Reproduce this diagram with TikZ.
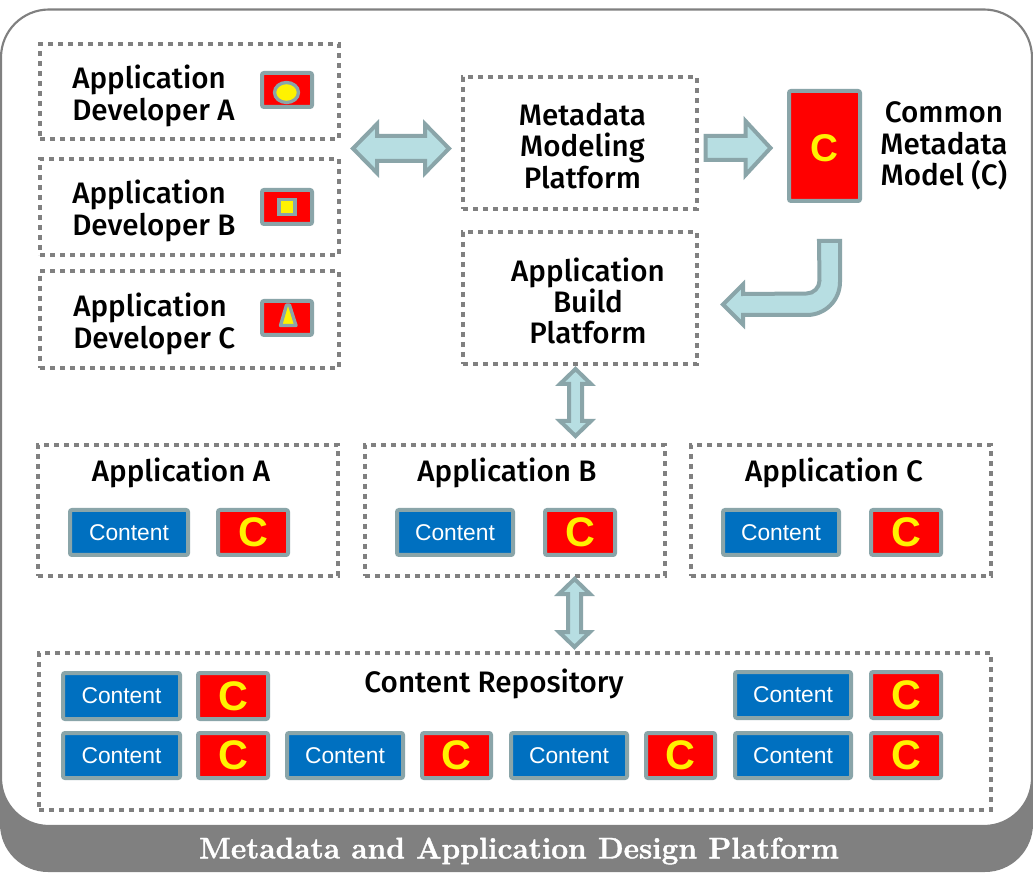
\documentclass[tikz,border=0pt]{standalone}
\usepackage{fontspec}
\setmainfont{Latin Modern Roman}
\newfontfamily\lab{Fira Sans Medium}
\newfontfamily\arial{Liberation Sans}
\newfontfamily\titlefont[BoldFeatures={FakeBold=1.3}]{Latin Modern Roman}
\usetikzlibrary{calc}
\definecolor{edgegray}{HTML}{8AA5A9}
\definecolor{dotgray}{HTML}{808080}
\definecolor{paleblue}{HTML}{B7DEE2}
\definecolor{contentblue}{HTML}{0070C0}
\tikzset{
  dotbox/.style={draw=dotgray,line width=3.5pt,dash pattern=on 3.6pt off 3.9pt,rectangle,inner sep=0pt},
  chip/.style={draw=edgegray,line width=3pt,rounded corners=1.5pt,rectangle,inner sep=0pt},
  contentbox/.style={chip,fill=contentblue,text=white,font=\arial\fontsize{17.1}{20}\selectfont},
  cbox/.style={chip,fill=red,text=yellow,font=\arial\bfseries\fontsize{31}{34}\selectfont},
  iconbox/.style={chip,fill=red},
  label/.style={font=\lab\fontsize{22.2}{23.4}\selectfont,text=black,inner sep=0pt},
  blockarrow/.style={draw=edgegray,fill=paleblue,line width=3pt,miter limit=10,line join=miter},
}
\newcommand\bx[7][]{\node[#2,#1,minimum width={(#5-#3)*0.75pt},minimum height={(#6-#4)*0.75pt}] (#7) at ({(#3+#5)/2},{(#4+#6)/2})}
\newcommand\dblh[5]{\draw[blockarrow] (#1) -- ($(#1)+(#3,-#4)$) -- ($(#1)+(#3,-#5)$) -- ($(#2)+(-#3,-#5)$) -- ($(#2)+(-#3,-#4)$) -- (#2) -- ($(#2)+(-#3,#4)$) -- ($(#2)+(-#3,#5)$) -- ($(#1)+(#3,#5)$) -- ($(#1)+(#3,#4)$) -- cycle;}
\newcommand\dblv[5]{\draw[blockarrow] (#1) -- ($(#1)+(-#4,#3)$) -- ($(#1)+(-#5,#3)$) -- ($(#2)+(-#5,-#3)$) -- ($(#2)+(-#4,-#3)$) -- (#2) -- ($(#2)+(#4,-#3)$) -- ($(#2)+(#5,-#3)$) -- ($(#1)+(#5,#3)$) -- ($(#1)+(#4,#3)$) -- cycle;}
\begin{document}
\begin{tikzpicture}[x=0.75pt,y=-0.75pt]
\useasboundingbox (0,0) rectangle (1033,884);
\fill[white] (0,0) rectangle (1033,884);
% frame
\fill[dotgray,rounded corners=36pt] (0,300) rectangle (1033,872);
\filldraw[fill=white,draw=dotgray,line width=1.6pt,rounded corners=36pt] (1,9.5) rectangle (1032,826);
\node[font=\titlefont\bfseries\fontsize{22.4}{24}\selectfont,text=white,inner sep=0pt] (title) at (519,851) {Metadata and Application Design Platform};
% developers
\bx{dotbox}{40}{44}{339}{139}{devA} {};
\bx{dotbox}{40}{159}{339}{255}{devB} {};
\bx{dotbox}{40}{271}{339}{368}{devC} {};
\node[label,anchor=west,align=left] (devAt) at (72,96) {Application\\Developer A};
\node[label,anchor=west,align=left] (devBt) at (72,211) {Application\\Developer B};
\node[label,anchor=west,align=left] (devCt) at (73,324) {Application\\Developer C};
\bx{iconbox}{262}{73}{312}{107}{iconA} {};
\bx{iconbox}{262}{190}{312}{224}{iconB} {};
\bx{iconbox}{262}{301}{312}{335}{iconC} {};
\draw[fill=yellow,draw=edgegray,line width=2.5pt] (286.5,92.5) ellipse [x radius=12,y radius=10];
\draw[fill=yellow,draw=edgegray,line width=2.5pt] (279,199.5) rectangle (295,214.5);
\draw[fill=yellow,draw=edgegray,line width=2.5pt,line join=round] (286.5,305) -- (289.5,305) -- (296,325.5) -- (280.5,325.5) -- cycle;
% platforms
\bx{dotbox}{463}{77}{697}{209}{modeling} {};
\bx{dotbox}{463}{232}{697}{364}{build} {};
\node[label,align=center] (modelingt) at (582.5,146) {Metadata\\Modeling\\Platform};
\node[label,align=center] (buildt) at (588,301) {Application\\Build\\Platform};
\bx{chip,fill=red}{789}{91}{860}{201}{cmm} {};
\node[text=yellow,font=\arial\bfseries\fontsize{29}{32}\selectfont,inner sep=0pt] (cmmc) at (824,148.5) {C};
\node[label,align=center] (cmmt) at (944,146) {Common\\Metadata\\Model (C)};
% applications
\bx{dotbox}{38}{445}{338}{576}{appA} {};
\bx{dotbox}{365}{445}{665}{576}{appB} {};
\bx{dotbox}{691}{445}{991}{576}{appC} {};
\node[label] (appAt) at (181,473) {Application A};
\node[label] (appBt) at (507,473) {Application B};
\node[label] (appCt) at (834,473) {Application C};
\bx{contentbox}{70}{510}{188}{555}{ca} {Content};
\bx{cbox}{218}{510}{288}{555}{xa} {C};
\bx{contentbox}{397}{510}{513}{555}{cb} {Content};
\bx{cbox}{545}{510}{615}{555}{xb} {C};
\bx{contentbox}{723}{510}{839}{555}{cc} {Content};
\bx{cbox}{871}{510}{941}{555}{xc} {C};
% repository
\bx{dotbox}{39}{653}{991}{810}{repo} {};
\node[label] (repot) at (494,684) {Content Repository};
\bx{contentbox}{63}{673}{180}{719}{r1} {Content};
\bx{cbox}{198}{673}{268}{719}{s1} {C};
\bx{contentbox}{735}{672}{851}{718}{r2} {Content};
\bx{cbox}{871}{672}{941}{718}{s2} {C};
\bx{contentbox}{63}{733}{180}{778}{r3} {Content};
\bx{cbox}{198}{733}{268}{778}{s3} {C};
\bx{contentbox}{287}{733}{403}{778}{r4} {Content};
\bx{cbox}{422}{733}{491}{778}{s4} {C};
\bx{contentbox}{511}{733}{627}{778}{r5} {Content};
\bx{cbox}{646}{733}{715}{778}{s5} {C};
\bx{contentbox}{735}{733}{851}{778}{r6} {Content};
\bx{cbox}{871}{733}{941}{778}{s6} {C};
% connectors
\coordinate (a1) at (353,148.5);
\coordinate (a2) at (449,148.5);
\dblh{a1}{a2}{24}{24.5}{12.5}
\coordinate (b1) at (705.5,148);
\coordinate (b2) at (770.5,148);
\draw[blockarrow] ($(b1)+(0,-12)$) -- ($(b1)+(40,-12)$) -- ($(b1)+(40,-27)$) -- (b2) -- ($(b1)+(40,27)$) -- ($(b1)+(40,12)$) -- ($(b1)+(0,12)$) -- cycle;
\coordinate (c1) at (829.5,241);
\coordinate (c2) at (723,304.5);
\draw[blockarrow] ($(c1)+(-10.5,0)$) -- ($(c1)+(10.5,0)$) -- ($(c1)+(10.5,41)$)
  arc[start angle=0,end angle=90,radius=33] -- ($(c2)+(20,10.5)$) -- ($(c2)+(20,20)$) -- (c2) -- ($(c2)+(20,-20)$) -- ($(c2)+(20,-10.5)$) -- ($(c1)+(-23,52.5)$)
  arc[start angle=90,end angle=0,radius=13] -- cycle;
\coordinate (d1) at (575.5,369);
\coordinate (d2) at (575.5,436);
\dblv{d1}{d2}{15}{15.5}{6.5}
\coordinate (e1) at (574.5,579);
\coordinate (e2) at (574.5,647);
\dblv{e1}{e2}{15}{15.5}{6.5}
\end{tikzpicture}
\end{document}
